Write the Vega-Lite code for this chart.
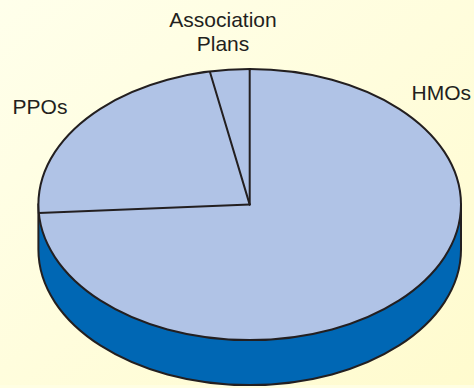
{
  "$schema": "https://vega.github.io/schema/vega-lite/v6.json",
  "width": 474,
  "height": 388,
  "padding": 0,
  "autosize": {"type": "fit", "contains": "padding"},
  "background": "#FFFEE2",
  "config": {
    "view": {
      "stroke": null,
      "fill": {
        "gradient": "linear",
        "x1": 0, "y1": 0, "x2": 1, "y2": 1,
        "stops": [
          {"offset": 0, "color": "#FFFFEB"},
          {"offset": 1, "color": "#FFFBCE"}
        ]
      }
    }
  },
  "data": {
    "values": [
      {"plan": "HMOs", "share": 74},
      {"plan": "PPOs", "share": 23},
      {"plan": "Association Plans", "share": 3}
    ]
  },
  "layer": [
    {
      "transform": [{"aggregate": [{"op": "sum", "field": "share", "as": "total"}]}],
      "mark": {
        "type": "point",
        "shape": "M-1,0L-1,0.213C-1,0.5672,-0.5523,0.8543,0,0.8543C0.5523,0.8543,1,0.5672,1,0.213L1,0Z",
        "size": 178591,
        "filled": true,
        "fill": "#0067B4",
        "stroke": "#231F20",
        "strokeWidth": 2,
        "opacity": 1
      },
      "encoding": {
        "x": {"datum": 0, "type": "quantitative", "scale": {"domain": [-1.1817, 1.0615], "nice": false, "zero": false}, "axis": null},
        "y": {"datum": 0, "type": "quantitative", "scale": {"domain": [-0.8604, 0.9759], "nice": false, "zero": false}, "axis": null}
      }
    },
    {
      "transform": [{"aggregate": [{"op": "sum", "field": "share", "as": "total"}]}],
      "mark": {
        "type": "point",
        "shape": "M-1,0C-1,-0.3542,-0.5523,-0.6413,0,-0.6413C0.5523,-0.6413,1,-0.3542,1,0C1,0.3542,0.5523,0.6413,0,0.6413C-0.5523,0.6413,-1,0.3542,-1,0Z",
        "size": 178591,
        "filled": true,
        "fill": "#B0C3E6",
        "stroke": "#231F20",
        "strokeWidth": 2,
        "opacity": 1
      },
      "encoding": {
        "x": {"datum": 0, "type": "quantitative"},
        "y": {"datum": 0, "type": "quantitative"}
      }
    },
    {
      "transform": [
        {"window": [{"op": "sum", "field": "share", "as": "cum"}], "sort": [{"field": "share", "order": "descending"}], "frame": [null, 0]},
        {"calculate": "2 * PI * datum.cum / 100", "as": "turn"},
        {"calculate": "sin(datum.turn)", "as": "ex"},
        {"calculate": "0.6413 * cos(datum.turn)", "as": "ey"},
        {"calculate": "0", "as": "cx"},
        {"calculate": "0", "as": "cy"}
      ],
      "mark": {"type": "rule", "color": "#231F20", "strokeWidth": 2, "strokeCap": "round"},
      "encoding": {
        "x": {"field": "cx", "type": "quantitative"},
        "y": {"field": "cy", "type": "quantitative"},
        "x2": {"field": "ex"},
        "y2": {"field": "ey"}
      }
    },
    {
      "transform": [{"filter": "datum.plan === 'HMOs'"}],
      "mark": {"type": "text", "font": "Liberation Sans", "fontSize": 21, "color": "#231F20", "align": "center", "baseline": "alphabetic"},
      "encoding": {
        "text": {"field": "plan", "type": "nominal"},
        "x": {"datum": 0.9068, "type": "quantitative"},
        "y": {"datum": 0.4979, "type": "quantitative"}
      }
    },
    {
      "transform": [{"filter": "datum.plan === 'PPOs'"}],
      "mark": {"type": "text", "font": "Liberation Sans", "fontSize": 21, "color": "#231F20", "align": "center", "baseline": "alphabetic"},
      "encoding": {
        "text": {"field": "plan", "type": "nominal"},
        "x": {"datum": -0.9924, "type": "quantitative"},
        "y": {"datum": 0.4316, "type": "quantitative"}
      }
    },
    {
      "transform": [{"filter": "datum.plan === 'Association Plans'"}],
      "mark": {"type": "text", "font": "Liberation Sans", "fontSize": 21, "color": "#231F20", "align": "center", "baseline": "alphabetic", "lineBreak": " ", "lineHeight": 24},
      "encoding": {
        "text": {"field": "plan", "type": "nominal"},
        "x": {"datum": -0.1264, "type": "quantitative"},
        "y": {"datum": 0.8495, "type": "quantitative"}
      }
    }
  ]
}
